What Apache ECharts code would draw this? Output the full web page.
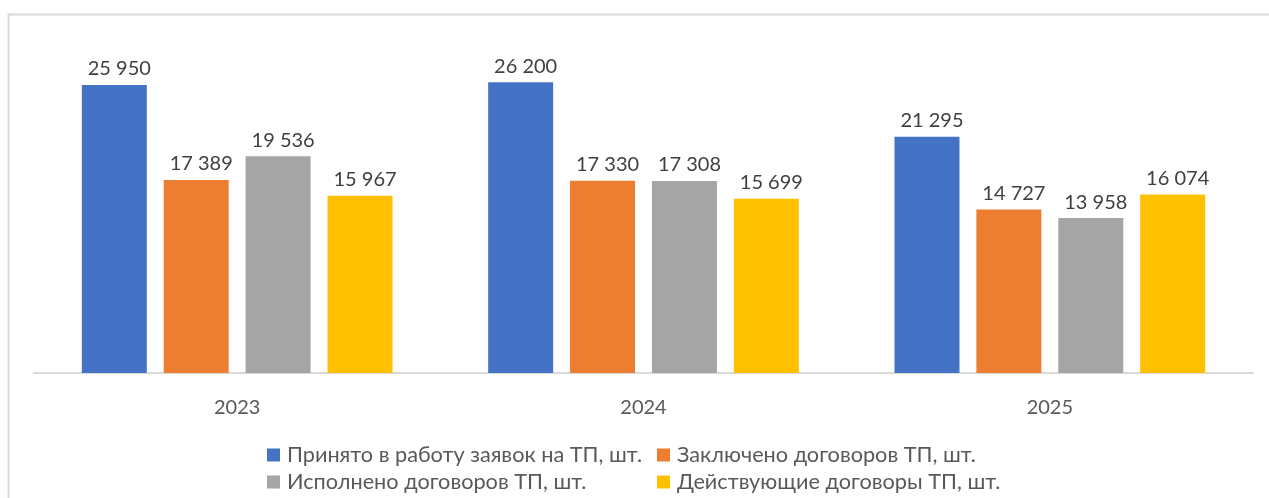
<!DOCTYPE html>
<html>
<head>
<meta charset="utf-8">
<script src="https://cdn.jsdelivr.net/npm/echarts@6/dist/echarts.min.js"></script>
<style>
  html, body { margin: 0; padding: 0; background: #fff; }
  #chart { width: 1269px; height: 498px; }
</style>
</head>
<body>
<div id="chart"></div>
<script>
const years = ['2023', '2024', '2025'];
const seriesNames = [
  'Принято в работу заявок на ТП, шт.',
  'Заключено договоров ТП, шт.',
  'Исполнено договоров ТП, шт.',
  'Действующие договоры ТП, шт.'
];
const accepted = [25950, 26200, 21295];
const concluded = [17389, 17330, 14727];
const executed = [19536, 17308, 13958];
const active = [15967, 15699, 16074];
const colors = ['#4472C4', '#ED7D31', '#A5A5A5', '#FFC000'];

const chart = echarts.init(document.getElementById('chart'));
const font = 'Lato, "Open Sans", sans-serif';

const fmt = v => String(v).replace(/\B(?=(\d{3})+(?!\d))/g, ' ');

const makeSeries = (name, data) => ({
  name,
  type: 'bar',
  data,
  barWidth: 65,
  barGap: '26%',
  label: {
    show: true,
    position: 'top',
    distance: 6,
    offset: [5, 0],
    color: '#404040',
    fontFamily: font,
    fontSize: 20,
    formatter: p => fmt(p.value)
  }
});

const legendBase = {
  orient: 'vertical',
  icon: 'rect',
  itemWidth: 13,
  itemHeight: 13,
  itemGap: 5,
  top: 439,
  textStyle: { color: '#595959', fontFamily: font, fontSize: 21.7, padding: [0, 0, 0, 2] }
};

chart.setOption({
  animation: false,
  color: colors,
  graphic: [{
    type: 'rect',
    shape: { x: 8.5, y: 14.5, width: 1300, height: 600 },
    style: { fill: 'none', stroke: '#d9d9d9', lineWidth: 2 },
    silent: true,
    z: -1
  }],
  legend: [
    Object.assign({}, legendBase, { left: 262, data: [seriesNames[0], seriesNames[2]] }),
    Object.assign({}, legendBase, { left: 652, data: [seriesNames[1], seriesNames[3]] })
  ],
  grid: { left: 34, right: 16, top: 40, bottom: 125 },
  xAxis: {
    type: 'category',
    data: years,
    axisTick: { show: false },
    axisLine: { lineStyle: { color: '#d9d9d9', width: 2 } },
    axisLabel: { color: '#595959', fontFamily: font, fontSize: 20, margin: 25 }
  },
  yAxis: {
    type: 'value',
    min: 0,
    max: 30000,
    show: false
  },
  series: [
    makeSeries(seriesNames[0], accepted),
    makeSeries(seriesNames[1], concluded),
    makeSeries(seriesNames[2], executed),
    makeSeries(seriesNames[3], active)
  ]
});
</script>
</body>
</html>
